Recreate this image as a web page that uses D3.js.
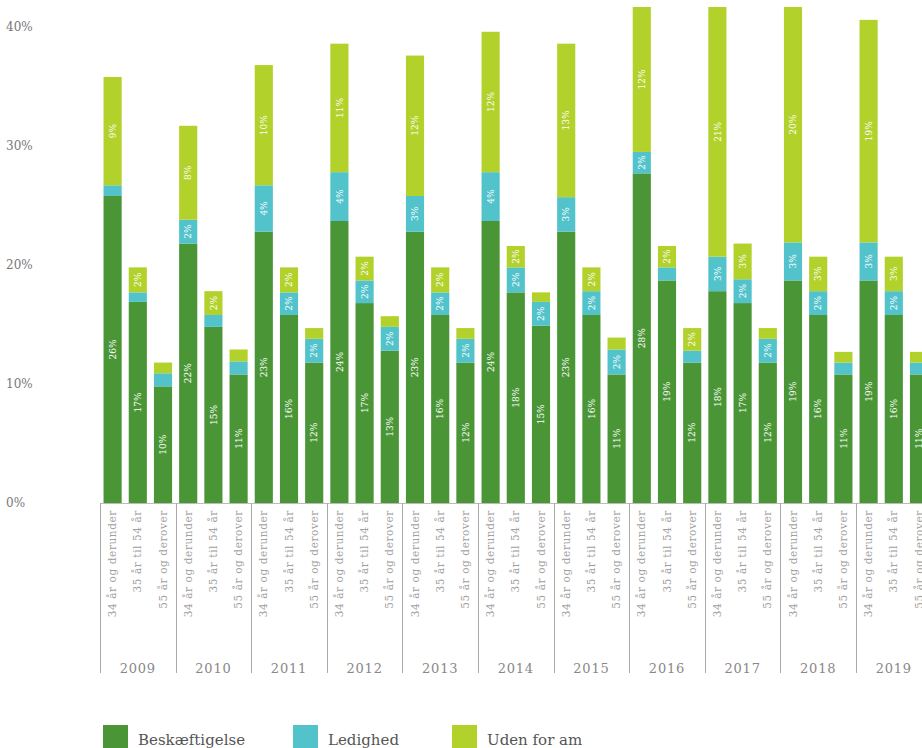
<!DOCTYPE html>
<html><head><meta charset="utf-8">
<script src="https://cdn.jsdelivr.net/npm/d3@7"></script>
<style>
html,body{margin:0;padding:0;background:#fff;overflow:hidden}
svg{display:block}
</style></head>
<body>
<svg id="chart" width="922" height="748"></svg>
<script>
const years = ["2009","2010","2011","2012","2013","2014","2015","2016","2017","2018","2019"];
const ageGroups = ["34 år og derunder","35 år til 54 år","55 år og derover"];
const seriesNames = ["Beskæftigelse","Ledighed","Uden for am"];
const seriesColors = ["#4a9637","#52c2cb","#b3d12b"];
// values per year, in order of ageGroups
const beskaeftigelse = [
  [25.8,16.9,9.8],[21.8,14.8,10.8],[22.8,15.8,11.8],[23.7,16.8,12.8],[22.8,15.8,11.8],
  [23.7,17.7,14.9],[22.8,15.8,10.8],[27.7,18.7,11.8],[17.8,16.8,11.8],[18.7,15.8,10.8],[18.7,15.8,10.8]
];
const ledighed = [
  [0.9,0.8,1.1],[2.0,1.0,1.1],[3.9,1.9,2.0],[4.1,1.9,2.0],[3.0,1.9,2.0],
  [4.1,2.1,2.0],[2.9,2.0,2.1],[1.8,1.1,1.0],[2.9,2.0,2.0],[3.2,2.0,1.0],[3.2,2.0,1.0]
];
const udenFor = [
  [9.1,2.1,0.9],[7.9,2.0,1.0],[10.1,2.1,0.9],[10.8,2.0,0.9],[11.8,2.1,0.9],
  [11.8,1.8,0.8],[12.9,2.0,1.0],[12.2,1.8,1.9],[21.0,3.0,0.9],[20.1,2.9,0.9],[18.7,2.9,0.9]
];
const yTicks = [0,10,20,30,40];

const svg = d3.select("#chart");
const serif = "'DejaVu Serif', 'Liberation Serif', serif";

const x0 = d3.scaleBand().domain(years).range([100, 100 + 75.6*years.length]).padding(0);
const x1 = d3.scaleBand().domain(ageGroups).range([0, x0.bandwidth()]).paddingInner(0.28).paddingOuter(0.14);
const y = d3.scaleLinear().domain([0,40]).range([503,27]);

// y-axis labels
svg.append("g").selectAll("text").data(yTicks).join("text")
  .attr("x", 6).attr("y", d => y(d) + 4)
  .attr("font-family", serif).attr("font-size", 12).attr("fill", "#777")
  .text(d => d + "%");

// build rows
const rows = [];
years.forEach((yr, i) => ageGroups.forEach((ag, j) => {
  rows.push({year: yr, age: ag, vals: [beskaeftigelse[i][j], ledighed[i][j], udenFor[i][j]]});
}));
const stack = d3.stack().keys([0,1,2]).value((d,k) => d.vals[k]);
const stacked = stack(rows);

svg.append("defs").append("clipPath").attr("id","plotclip")
  .append("rect").attr("x",0).attr("y",7).attr("width",922).attr("height",500);

const plot = svg.append("g").attr("clip-path","url(#plotclip)");
const topY = 7;

stacked.forEach((layer, k) => {
  const g = plot.append("g");
  g.selectAll("rect").data(layer).join("rect")
    .attr("x", d => x0(d.data.year) + x1(d.data.age))
    .attr("width", x1.bandwidth())
    .attr("y", d => y(d[1]))
    .attr("height", d => y(d[0]) - y(d[1]))
    .attr("fill", seriesColors[k]);
  g.selectAll("text").data(layer.filter(d => Math.round(d[1]-d[0]) >= 2)).join("text")
    .attr("transform", d => {
      const cx = x0(d.data.year) + x1(d.data.age) + x1.bandwidth()/2;
      const cy = (Math.max(y(d[1]), topY) + y(d[0]))/2;
      return `translate(${cx},${cy}) rotate(-90)`;
    })
    .attr("text-anchor","middle").attr("dy","0.35em")
    .attr("font-family", serif).attr("font-size", 9).attr("fill", "#fff")
    .text(d => Math.round(d[1]-d[0]) + "%");
});

// x-axis frame
const axisG = svg.append("g");
axisG.append("line").attr("x1",100).attr("x2",922).attr("y1",503.5).attr("y2",503.5)
  .attr("stroke","#bbb").attr("stroke-width",1);
years.forEach(yr => {
  const xs = Math.round(x0(yr)) + 0.5;
  axisG.append("line").attr("x1",xs).attr("x2",xs).attr("y1",503).attr("y2",673)
    .attr("stroke","#aaa").attr("stroke-width",1);
  axisG.append("text").attr("x", x0(yr) + x0.bandwidth()/2).attr("y", 673)
    .attr("text-anchor","middle").attr("font-family", serif).attr("font-size", 13)
    .attr("letter-spacing", "0.8px").attr("fill","#888").text(yr);
  ageGroups.forEach(ag => {
    const cx = x0(yr) + x1(ag) + x1.bandwidth()/2;
    axisG.append("text")
      .attr("transform", `translate(${cx},510) rotate(-90)`)
      .attr("text-anchor","end").attr("dy","0.35em")
      .attr("font-family", serif).attr("font-size", 10.5).attr("letter-spacing","0.6px").attr("fill","#a0a0a0")
      .text(ag);
  });
});

// legend
const legendX = [103, 293, 452];
const leg = svg.append("g");
seriesNames.forEach((s, k) => {
  leg.append("rect").attr("x", legendX[k]).attr("y", 725).attr("width", 25).attr("height", 25)
    .attr("fill", seriesColors[k]);
  leg.append("text").attr("x", legendX[k] + 35).attr("y", 745)
    .attr("font-family", serif).attr("font-size", 15).attr("fill","#555").text(s);
});
</script>
</body></html>
